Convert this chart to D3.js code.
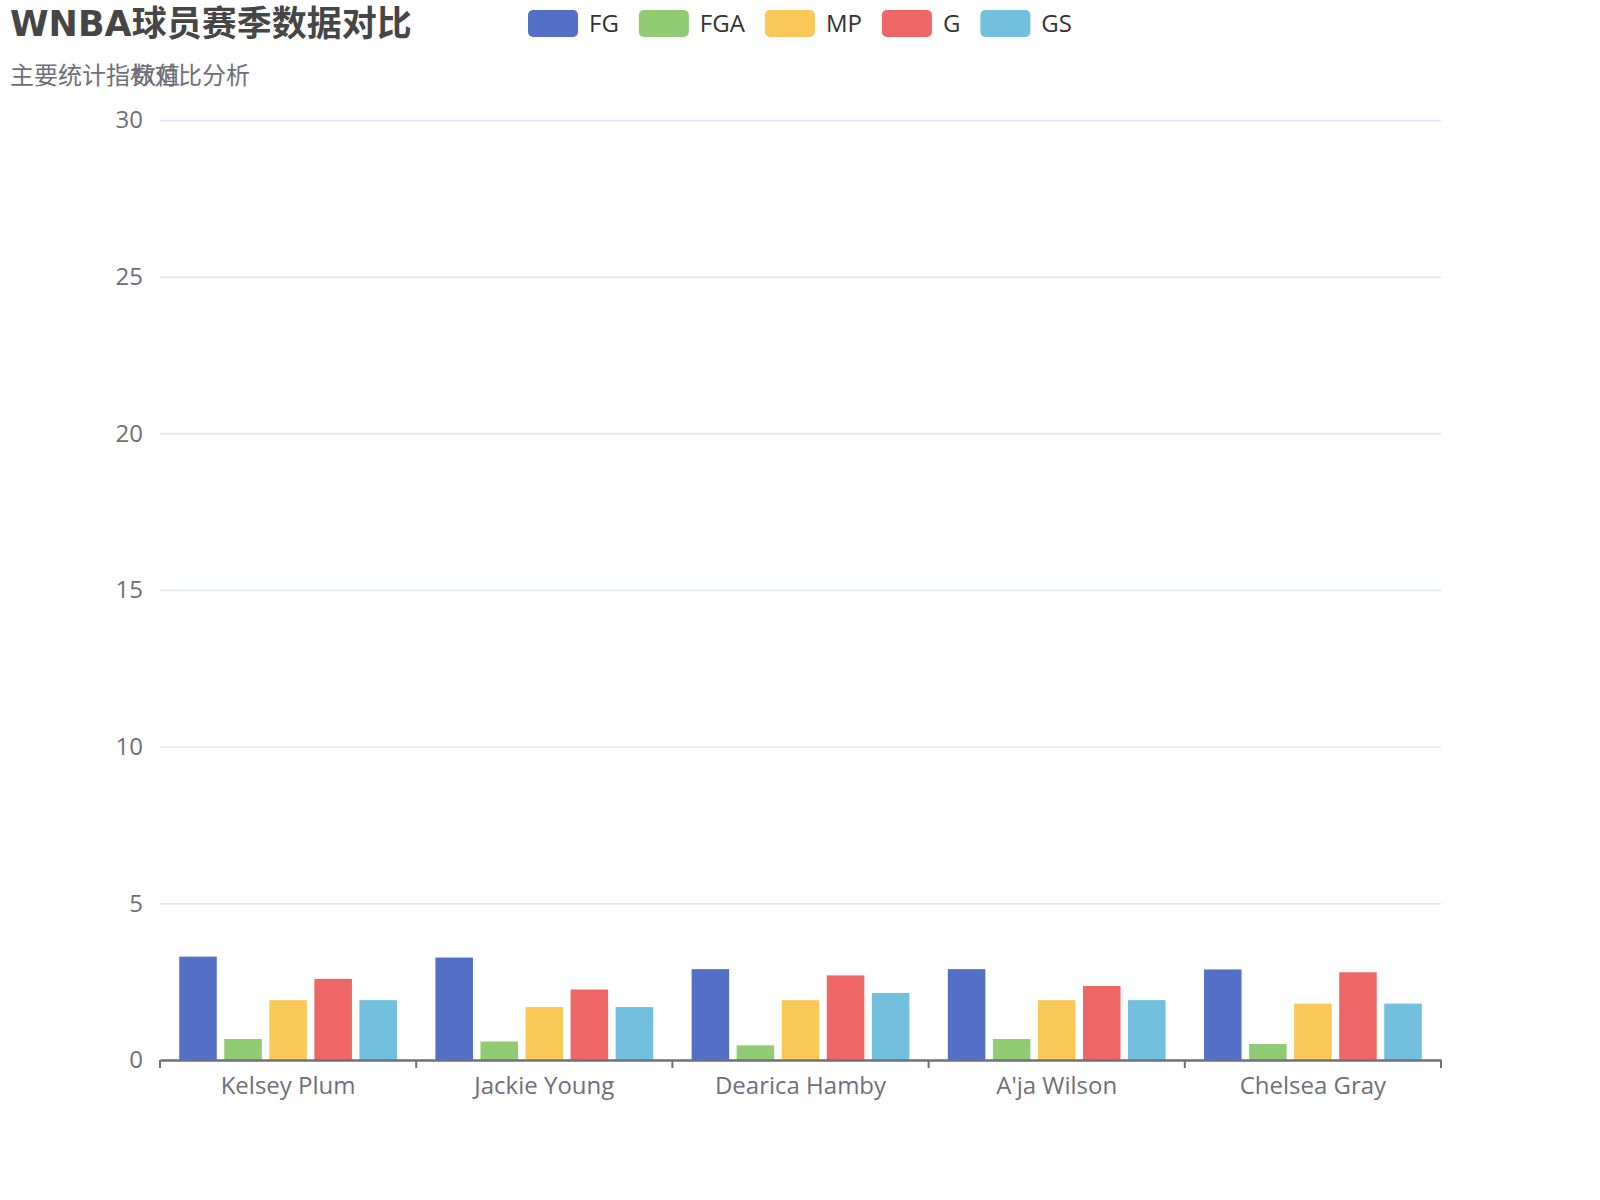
<!DOCTYPE html>
<html>
<head>
<meta charset="utf-8">
<script src="https://cdn.jsdelivr.net/npm/d3@7"></script>
<style>
  body { margin: 0; background: #fff; }
  text { font-family: "Open Sans", "Noto Sans CJK SC", sans-serif; }
</style>
</head>
<body>
<div id="chart"></div>
<script>
const players = ['Kelsey Plum', 'Jackie Young', 'Dearica Hamby', "A'ja Wilson", 'Chelsea Gray']
const seriesNames = ['FG', 'FGA', 'MP', 'G', 'GS']
const fg = [3.3, 3.27, 2.9, 2.9, 2.89]
const fga = [0.67, 0.59, 0.47, 0.67, 0.51]
const mp = [1.91, 1.69, 1.91, 1.91, 1.8]
const g = [2.59, 2.25, 2.7, 2.36, 2.8]
const gs = [1.91, 1.69, 2.14, 1.91, 1.8]
const yTicks = [0, 5, 10, 15, 20, 25, 30]

const series = [fg, fga, mp, g, gs]
const colors = ['#5470c6', '#91cc75', '#fac858', '#ee6666', '#73c0de']

const width = 1600
const height = 1200
const grid = { left: 160, right: 1441, top: 120, bottom: 1060 }

const svg = d3.select('#chart')
  .append('svg')
  .attr('width', width)
  .attr('height', height)

const x0 = d3.scaleBand()
  .domain(players)
  .range([grid.left, grid.right])

const bw = x0.bandwidth()
const x1 = d3.scaleBand()
  .domain(seriesNames)
  .range([bw * 0.075, bw * 0.925])
  .paddingInner(1 / 6)

const y = d3.scaleLinear()
  .domain([0, 30])
  .range([grid.bottom, grid.top])

// grid lines
svg.append('g')
  .attr('transform', `translate(${grid.left},0)`)
  .call(d3.axisLeft(y).tickValues(yTicks).tickSize(-(grid.right - grid.left)).tickFormat(''))
  .call(g => g.select('.domain').remove())
  .call(g => g.selectAll('line').attr('stroke', '#e0e6f1').attr('stroke-width', 1.5))
  .call(g => g.selectAll('.tick').filter(d => d === 0).remove())

// y labels
svg.append('g')
  .attr('transform', `translate(${grid.left},0)`)
  .call(d3.axisLeft(y).tickValues(yTicks).tickSize(0).tickPadding(17))
  .call(g => g.select('.domain').remove())
  .call(g => g.selectAll('text')
    .attr('fill', '#6e7079')
    .style('font-size', '24px'))

// bars
svg.append('g')
  .selectAll('g')
  .data(players)
  .join('g')
  .attr('transform', d => `translate(${x0(d)},0)`)
  .selectAll('rect')
  .data((d, i) => seriesNames.map((s, j) => ({ s, v: series[j][i], c: colors[j] })))
  .join('rect')
  .attr('x', d => x1(d.s))
  .attr('y', d => y(d.v))
  .attr('width', x1.bandwidth())
  .attr('height', d => y(0) - y(d.v))
  .attr('fill', d => d.c)

// x axis
svg.append('g')
  .attr('transform', `translate(0,${grid.bottom})`)
  .call(d3.axisBottom(x0).tickSize(0).tickPadding(17))
  .call(g => g.select('.domain').attr('stroke', '#6e7079').attr('stroke-width', 2.5))
  .call(g => g.selectAll('text')
    .attr('fill', '#6e7079')
    .style('font-size', '24px'))

const bounds = players.map(p => x0(p)).concat([grid.right])
svg.append('g')
  .selectAll('line')
  .data(bounds)
  .join('line')
  .attr('x1', d => d)
  .attr('x2', d => d)
  .attr('y1', grid.bottom)
  .attr('y2', grid.bottom + 8)
  .attr('stroke', '#6e7079')
  .attr('stroke-width', 2)

// title
svg.append('text')
  .attr('x', 10)
  .attr('y', 36)
  .attr('fill', '#464646')
  .style('font-family', '"DejaVu Sans", "Noto Sans CJK SC", sans-serif')
  .style('font-weight', 'bold')
  .style('font-size', '35px')
  .text('WNBA球员赛季数据对比')

svg.append('text')
  .attr('x', 10)
  .attr('y', 84)
  .attr('fill', '#6e7079')
  .style('font-size', '24px')
  .text('主要统计指标对比分析')

// y axis name
svg.append('text')
  .attr('x', 156)
  .attr('y', 84)
  .attr('text-anchor', 'middle')
  .attr('fill', '#6e7079')
  .style('font-size', '24px')
  .text('数值')

// legend
const legend = svg.append('g')
const items = legend.selectAll('g')
  .data(seriesNames)
  .join('g')

items.append('rect')
  .attr('width', 50)
  .attr('height', 27)
  .attr('y', 10)
  .attr('rx', 5)
  .attr('fill', (d, i) => colors[i])

items.append('text')
  .attr('x', 61)
  .attr('y', 32)
  .attr('fill', '#333')
  .style('font-size', '24px')
  .text(d => d)

let cx = 0
items.each(function() {
  const w = d3.select(this).select('text').node().getComputedTextLength()
  d3.select(this).attr('transform', `translate(${cx},0)`)
  cx += 61 + w + 20
})
const legendW = cx - 20
legend.attr('transform', `translate(${800 - legendW / 2},0)`)
</script>
</body>
</html>
